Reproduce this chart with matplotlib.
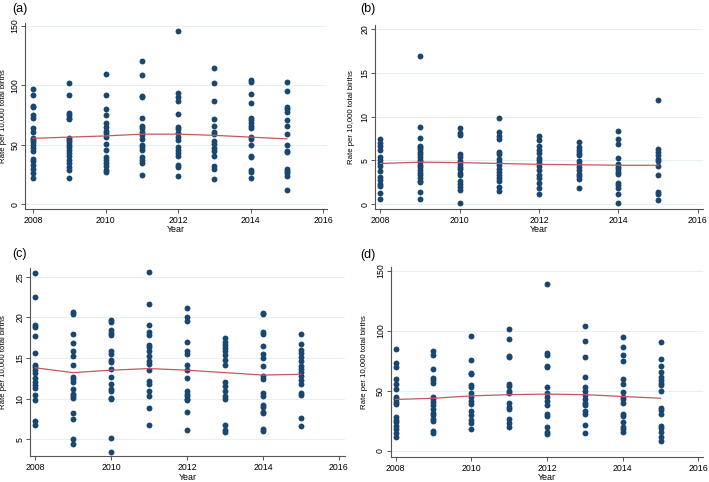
import matplotlib.pyplot as plt

plt.rcParams['font.family'] = ['Liberation Sans', 'DejaVu Sans']

years = [2008, 2009, 2010, 2011, 2012, 2013, 2014, 2015]
x_ticks = [2008, 2010, 2012, 2014, 2016]

# (a) one list of rates per year
a_rates = [
    [97, 92, 83, 82, 75, 73, 64, 61, 56, 54, 52, 50, 47, 45, 38, 36, 33, 30, 26, 22],
    [102, 92, 77, 75, 73, 72, 56, 54, 52, 50, 48, 46, 43, 41, 37, 35, 31, 29, 22],
    [110, 92, 80, 75, 68, 65, 62, 60, 57, 51, 46, 40, 37, 35, 32, 29, 27],
    [121, 109, 91, 90, 73, 66, 64, 61, 58, 55, 50, 48, 46, 40, 37, 35, 25],
    [146, 94, 90, 87, 76, 65, 63, 60, 57, 54, 48, 46, 43, 41, 33, 31, 24],
    [115, 102, 87, 72, 66, 61, 59, 53, 51, 47, 45, 41, 32, 30, 21],
    [105, 103, 93, 85, 73, 71, 68, 66, 64, 57, 55, 50, 41, 40, 29, 27, 22],
    [103, 95, 82, 80, 78, 71, 66, 59, 50, 45, 44, 30, 28, 26, 24, 12],
]
a_trend = [55.5, 56.5, 57.5, 59, 59, 58, 56.5, 55]

# (b)
b_rates = [
    [7.4, 7.0, 6.6, 6.2, 5.4, 5.0, 4.7, 4.4, 3.8, 3.1, 2.8, 2.3, 2.1, 1.3, 0.6],
    [16.9, 8.8, 7.6, 6.7, 6.5, 6.3, 6.0, 5.7, 5.4, 5.1, 4.8, 4.5, 4.2, 3.9, 3.6, 3.3, 3.0, 2.7, 2.5, 1.4, 0.6],
    [8.7, 8.1, 7.9, 5.7, 5.4, 4.9, 4.6, 4.3, 4.0, 3.6, 3.3, 2.6, 2.3, 2.0, 1.6, 0.1],
    [9.8, 8.3, 7.8, 7.5, 6.0, 5.7, 5.2, 4.8, 4.5, 4.0, 3.7, 3.3, 3.0, 2.7, 2.0, 1.5],
    [7.8, 7.3, 6.6, 6.2, 5.8, 5.3, 5.0, 4.7, 4.4, 3.9, 3.3, 3.0, 2.4, 1.8, 1.2],
    [7.1, 6.5, 6.2, 5.9, 5.6, 4.9, 4.6, 4.3, 3.9, 3.5, 3.2, 2.9, 1.8],
    [8.4, 7.5, 6.9, 5.3, 4.6, 4.3, 4.0, 3.7, 3.4, 2.4, 2.2, 1.9, 1.2, 0.1],
    [11.9, 6.3, 6.0, 5.6, 5.2, 4.9, 4.4, 3.3, 1.4, 1.2, 0.5],
]
b_trend = [4.65, 4.8, 4.75, 4.65, 4.55, 4.5, 4.45, 4.45]

# (c)
c_rates = [
    [25.4, 22.5, 19.0, 18.8, 17.7, 15.6, 14.2, 13.9, 13.5, 13.1, 12.6, 12.0, 11.7, 11.3, 10.5, 9.8, 7.3, 6.8],
    [20.6, 20.4, 18.0, 16.9, 15.8, 15.2, 14.1, 12.7, 12.4, 12.1, 11.2, 10.6, 10.3, 10.1, 8.2, 7.5, 5.0, 4.4],
    [19.7, 19.4, 18.4, 18.1, 17.8, 15.8, 15.5, 14.8, 14.5, 13.6, 12.7, 11.8, 11.2, 10.9, 10.1, 10.0, 5.2, 3.5],
    [25.6, 21.6, 19.1, 18.2, 17.8, 16.6, 16.3, 15.8, 15.3, 14.6, 14.3, 13.5, 12.2, 11.8, 10.9, 10.3, 8.9, 6.7],
    [21.2, 20.0, 19.5, 17.0, 15.9, 15.5, 14.2, 13.5, 12.5, 11.0, 10.6, 10.3, 10.0, 9.8, 8.4, 6.1],
    [17.4, 17.0, 16.6, 16.2, 15.8, 15.4, 14.7, 14.2, 12.0, 11.6, 11.0, 10.3, 10.0, 6.8, 6.1, 5.9],
    [20.5, 20.4, 18.2, 17.9, 16.5, 15.5, 15.0, 14.0, 12.8, 12.4, 10.7, 10.3, 9.2, 9.0, 8.4, 8.2, 6.3, 6.0],
    [17.9, 16.7, 16.0, 15.6, 15.1, 14.6, 14.0, 13.7, 13.3, 12.8, 12.3, 11.8, 10.7, 10.4, 7.6, 6.6],
]
c_trend = [13.8, 13.2, 13.5, 13.7, 13.5, 13.2, 12.9, 13.0]

# (d)
d_rates = [
    [85, 73, 70, 60, 56, 52, 45, 43, 41, 39, 28, 26, 24, 21, 18, 15, 12],
    [83, 80, 68, 61, 59, 57, 45, 43, 41, 38, 35, 32, 30, 27, 25, 17, 15],
    [96, 76, 65, 64, 55, 53, 48, 45, 42, 39, 33, 30, 26, 23, 18],
    [102, 93, 79, 78, 56, 54, 50, 48, 40, 37, 35, 27, 23, 20],
    [139, 82, 80, 71, 70, 53, 48, 45, 42, 38, 31, 29, 20, 16, 14],
    [104, 92, 78, 62, 53, 50, 47, 43, 40, 38, 33, 31, 22, 15],
    [95, 87, 80, 75, 60, 56, 49, 45, 43, 40, 31, 29, 24, 20, 18, 16],
    [91, 77, 71, 66, 62, 59, 57, 55, 50, 36, 34, 31, 21, 19, 16, 12, 8],
]
d_trend = [43, 44, 46, 47, 47.5, 47, 45.5, 44]

a_yticks = [0, 50, 100, 150]
b_yticks = [0, 5, 10, 15, 20]
c_yticks = [5, 10, 15, 20, 25]
d_yticks = [0, 50, 100, 150]

DOT = '#1a476f'
LINE = '#c4585f'
GRID = '#e7eff1'
AXC = '#555555'

fig = plt.figure(figsize=(7.09, 4.82), dpi=100)


def draw_panel(rect, rates, trend, yticks, xlim, ylim, label, label_xy, ylab_x, xlab_y):
    ax = fig.add_axes(rect)
    for year, vals in zip(years, rates):
        ax.scatter([year] * len(vals), vals, s=18, color=DOT, linewidths=0, zorder=3)
    ax.plot(years, trend, color=LINE, lw=0.9, zorder=4)

    ax.set_xlim(*xlim)
    ax.set_ylim(*ylim)
    ax.set_xticks(x_ticks)
    ax.set_yticks(yticks)
    ax.set_yticklabels([str(t) for t in yticks], rotation=90, va='center')
    ax.tick_params(axis='both', length=3, width=0.7, color=AXC, labelsize=6.3)
    ax.tick_params(axis='x', pad=2)
    ax.tick_params(axis='y', pad=1)
    ax.grid(axis='y', color=GRID, lw=0.8, zorder=0)
    ax.set_axisbelow(True)
    for side in ['top', 'right']:
        ax.spines[side].set_visible(False)
    for side in ['left', 'bottom']:
        ax.spines[side].set_color(AXC)
        ax.spines[side].set_linewidth(0.8)

    ax.set_ylabel('Rate per 10,000 total births', fontsize=5.6)
    ax.yaxis.set_label_coords(ylab_x, 0.5)
    ax.set_xlabel('Year', fontsize=6.4)
    ax.xaxis.set_label_coords(0.5, xlab_y)
    fig.text(label_xy[0], label_xy[1], label, fontsize=9, ha='left', va='center')
    return ax


draw_panel([0.0353, 0.566, 0.426, 0.386], a_rates, a_trend, a_yticks,
           (2007.78, 2016.11), (-4.2, 152.5), '(a)', (12 / 709, 1 - 9 / 482), -0.061, -0.085)
draw_panel([0.529, 0.566, 0.4626, 0.382], b_rates, b_trend, b_yticks,
           (2007.87, 2016.13), (-0.57, 20.46), '(b)', (360 / 709, 1 - 9 / 482), -0.062, -0.085)
draw_panel([0.0423, 0.054, 0.4443, 0.390], c_rates, c_trend, c_yticks,
           (2007.87, 2016.16), (2.95, 26.07), '(c)', (12 / 709, 1 - 254 / 482), -0.073, -0.088)
draw_panel([0.551, 0.0525, 0.4405, 0.394], d_rates, d_trend, d_yticks,
           (2007.87, 2016.12), (-4.7, 153.6), '(d)', (360 / 709, 1 - 255 / 482), -0.073, -0.088)

plt.savefig('out.png', dpi=100)
